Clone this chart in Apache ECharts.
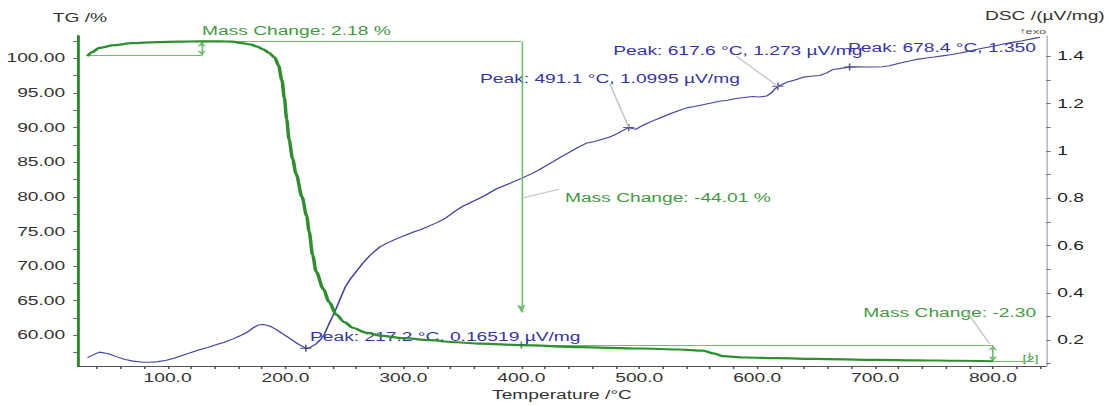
<!DOCTYPE html>
<html>
<head>
<meta charset="utf-8">
<script src="https://cdn.jsdelivr.net/npm/echarts@6/dist/echarts.min.js"></script>
<style>
  html, body { margin: 0; padding: 0; background: #fff; overflow: hidden; }
  /* the source picture is a horizontally stretched screenshot, so draw narrow and stretch */
  #chart { width: 693px; height: 406px; transform: scaleX(1.6); transform-origin: 0 0; }
</style>
</head>
<body>
<div id="chart"></div>
<script>
// TG curve (mass %)
const tgT = [32, 36, 42, 55, 70, 90, 110, 127, 145, 155, 163, 170, 176, 181, 186, 191, 194, 197, 199, 201,
  203, 206, 209, 214, 218, 220, 223, 226, 232, 237, 243, 250, 257, 268, 280, 300, 322, 345, 365, 400,
  450, 500, 534, 554, 563, 571, 590, 619, 650, 700, 735, 770, 800]
const tgV = [100.3, 100.9, 101.5, 101.9, 102.2, 102.35, 102.4, 102.45, 102.45, 102.4, 102.2, 102.0, 101.7, 101.3, 100.8, 100.1, 99.0, 96.8, 94.3, 91.2,
  88.3, 85.5, 83.3, 80.0, 77.2, 75.0, 71.6, 69.2, 66.7, 64.8, 63.0, 61.9, 61.1, 60.4, 59.96, 59.6, 59.3, 59.0, 58.8, 58.6,
  58.3, 58.1, 57.96, 57.8, 57.4, 57.0, 56.8, 56.7, 56.6, 56.45, 56.4, 56.33, 56.26]

// DSC curve (µV/mg)
const dscT = [32, 42, 50, 57, 64, 71, 78, 85, 92, 99, 106, 113, 120, 127, 134, 141, 148, 155, 161, 167,
  172, 177, 181, 184, 188, 192, 197, 203, 208, 212, 215, 217.2, 219, 222, 226, 230, 233, 237, 240, 243,
  247, 251, 255, 260, 266, 272, 280, 287, 294, 301, 308, 315, 322, 329, 336, 343, 350, 357, 365, 372,
  379, 389, 400, 408, 415, 421, 427, 434, 441, 448, 455, 462, 468, 475, 481, 486, 491.1, 494, 497.5, 501,
  506, 512, 518, 525, 532, 540, 547, 554, 561, 568, 575, 582, 589, 596, 602, 608, 612, 615, 617.6, 621,
  625, 632, 639, 646, 653, 659, 664, 670, 678.4, 685, 692, 699, 706, 712, 718, 724, 730, 735, 742, 750,
  757, 764, 771, 778, 785, 792, 799, 806, 812, 818, 824, 829, 835, 840]
const dscV = [0.126, 0.149, 0.142, 0.129, 0.118, 0.111, 0.107, 0.106, 0.109, 0.115, 0.124, 0.136, 0.148, 0.159, 0.169, 0.180, 0.191, 0.204, 0.217, 0.232,
  0.250, 0.264, 0.266, 0.263, 0.256, 0.245, 0.228, 0.209, 0.192, 0.180, 0.171, 0.165, 0.166, 0.172, 0.184, 0.204, 0.225, 0.270, 0.300, 0.334,
  0.382, 0.428, 0.458, 0.490, 0.528, 0.560, 0.594, 0.612, 0.628, 0.642, 0.656, 0.668, 0.683, 0.698, 0.717, 0.742, 0.765, 0.782, 0.801, 0.820,
  0.840, 0.860, 0.884, 0.902, 0.920, 0.938, 0.955, 0.976, 0.995, 1.015, 1.032, 1.040, 1.048, 1.059, 1.072, 1.086, 1.0995, 1.095, 1.092, 1.103,
  1.115, 1.128, 1.140, 1.155, 1.168, 1.182, 1.188, 1.195, 1.203, 1.210, 1.214, 1.222, 1.226, 1.230, 1.228, 1.232, 1.245, 1.262, 1.273, 1.280,
  1.290, 1.300, 1.312, 1.316, 1.319, 1.330, 1.344, 1.348, 1.355, 1.356, 1.355, 1.355, 1.356, 1.360, 1.368, 1.375, 1.381, 1.387, 1.392, 1.397,
  1.402, 1.407, 1.413, 1.420, 1.428, 1.435, 1.442, 1.449, 1.455, 1.460, 1.465, 1.470, 1.476, 1.481]

// DSC peaks
const peaks = [[217.2, 0.16519], [491.1, 1.0995], [617.6, 1.273], [678.4, 1.355]]

// tick labels
const tempTicks = [100, 200, 300, 400, 500, 600, 700, 800]
const tempMinor = [40, 60, 80, 100, 120, 140, 160, 180, 200, 220, 240, 260, 280, 300, 320, 340, 360, 380, 400, 420,
  440, 460, 480, 500, 520, 540, 560, 580, 600, 620, 640, 660, 680, 700, 720, 740, 760, 780, 800, 820, 840]
const tgTicks = [60, 65, 70, 75, 80, 85, 90, 95, 100]
const tgMinor = [57.5, 60, 62.5, 65, 67.5, 70, 72.5, 75, 77.5, 80, 82.5, 85, 87.5, 90, 92.5, 95, 97.5, 100, 102.5]
const dscTicks = [0.2, 0.4, 0.6, 0.8, 1, 1.2, 1.4]
const dscMinor = [0.1, 0.2, 0.3, 0.4, 0.5, 0.6, 0.7, 0.8, 0.9, 1, 1.1, 1.2, 1.3, 1.4]

// mass change steps (TG units)
const step1 = { from: 100.4, to: 102.4, at: 129, start: 32 }
const step2 = { from: 102.4, to: 63.3, at: 400 }
const step3 = { from: 58.55, to: 56.26, at: 800, end: 831, mark: 57.5 }

const font = 'Liberation Sans, Arial, sans-serif'
const green = '#2f8f2f'
const annGreen = '#6cbf6c'
const blue = '#4646a4'
const leader = '#c4c4c4'

var myChart = echarts.init(document.getElementById('chart'), null, { renderer: 'svg' })

const seg = (a, b) => [{ coord: a }, { coord: b }]

const txt = (x, y, text, color, size) => ({
    type: 'text', x: x, y: y, silent: true,
    style: { text: text, fill: color, font: (size || 12) + 'px ' + font, verticalAlign: 'middle' }
})

const option = {
    animation: false,
    grid: {
        left: 48.75,
        right: 39.25,
        top: 36,
        bottom: 30
    },
    xAxis: {
        type: 'value',
        min: 24,
        max: 845,
        name: 'Temperature /°C',
        nameLocation: 'middle',
        nameGap: 16,
        nameTextStyle: { color: '#333', fontSize: 12, fontFamily: font },
        axisLine: { lineStyle: { color: '#555', width: 1 } },
        axisTick: { customValues: tempMinor, length: 3, lineStyle: { color: '#555' } },
        axisLabel: {
            customValues: tempTicks,
            margin: 6,
            color: '#333',
            fontSize: 12,
            fontFamily: font,
            formatter: (v) => v.toFixed(1)
        },
        splitLine: { show: false }
    },
    yAxis: [
        {
            type: 'value',
            min: 55.56,
            max: 103.22,
            axisLine: { show: true, lineStyle: { color: '#2a8a2a', width: 1.8 } },
            axisTick: { show: true, customValues: tgMinor, length: 3, lineStyle: { color: '#666' } },
            axisLabel: {
                customValues: tgTicks,
                margin: 8,
                color: '#333',
                fontSize: 12,
                fontFamily: font,
                formatter: (v) => v.toFixed(2)
            },
            splitLine: { show: false }
        },
        {
            type: 'value',
            position: 'right',
            min: 0.09,
            max: 1.486,
            axisLine: { show: true, lineStyle: { color: '#b9b9d6', width: 1 } },
            axisTick: { show: true, customValues: dscMinor, length: 3, lineStyle: { color: '#777' } },
            axisLabel: {
                customValues: dscTicks,
                margin: 7,
                color: '#222',
                fontSize: 12,
                fontFamily: font,
                formatter: (v) => String(Math.round(v * 10) / 10)
            },
            splitLine: { show: false }
        }
    ],
    graphic: [
        txt(33, 18, 'TG /%', '#333'),
        txt(615.6, 16, 'DSC /(µV/mg)', '#333'),
        txt(637, 31, '↑exo', '#555', 8),
        txt(126.25, 31, 'Mass Change: 2.18 %', '#3f9a3f'),
        txt(353.1, 198, 'Mass Change: -44.01 %', '#3f9a3f'),
        txt(539.6, 313, 'Mass Change: -2.30', '#3f9a3f'),
        txt(639, 359, '[2]', '#3f9a3f', 9),
        txt(193.75, 337, 'Peak: 217.2 °C, 0.16519 µV/mg', '#3535a8'),
        txt(300, 79, 'Peak: 491.1 °C, 1.0995 µV/mg', '#3535a8'),
        txt(383.3, 51, 'Peak: 617.6 °C, 1.273 µV/mg', '#3535a8'),
        txt(530, 48, 'Peak: 678.4 °C, 1.350', '#3535a8')
    ],
    series: [
        {
            name: 'DSC',
            type: 'line',
            yAxisIndex: 1,
            showSymbol: false,
            data: dscT.map((t, i) => [t, dscV[i]]),
            lineStyle: { color: blue, width: 1.1 },
            markLine: {
                silent: true,
                symbol: 'none',
                label: { show: false },
                lineStyle: { color: leader, width: 1, type: 'solid' },
                data: [
                    seg([475, 1.285], peaks[1]),
                    seg([582.6, 1.40], peaks[2])
                ]
            },
            z: 3
        },
        {
            name: 'DSC peaks',
            type: 'scatter',
            yAxisIndex: 1,
            symbol: 'path://M0,5L10,5M5,0L5,10',
            symbolSize: 7,
            itemStyle: { color: 'none', borderColor: '#333366', borderWidth: 1 },
            data: peaks,
            z: 4
        },
        {
            name: 'TG',
            type: 'line',
            yAxisIndex: 0,
            showSymbol: false,
            smooth: 0.3,
            smoothMonotone: 'x',
            data: tgT.map((t, i) => [t, tgV[i]]),
            lineStyle: { color: green, width: 2.2 },
            markLine: {
                silent: true,
                symbol: 'none',
                label: { show: false },
                lineStyle: { color: annGreen, width: 1, type: 'solid' },
                data: [
                    seg([step1.start, step1.from], [step1.at, step1.from]),
                    seg([step1.at, step1.to], [step2.at, step1.to]),
                    [{ coord: [step1.at, step1.from], symbol: 'arrow', symbolSize: [4, 5] },
                     { coord: [step1.at, step1.to], symbol: 'arrow', symbolSize: [4, 5] }],
                    [{ coord: [step2.at, step2.from], symbol: 'none' },
                     { coord: [step2.at, step2.to], symbol: 'arrow', symbolSize: [4, 8] }],
                    seg([step2.at, step3.from], [step3.at, step3.from]),
                    [{ coord: [step3.at, step3.from], symbol: 'arrow', symbolSize: [4, 5] },
                     { coord: [step3.at, step3.to], symbol: 'arrow', symbolSize: [4, 5] }],
                    seg([step3.at, step3.to], [step3.end, step3.to]),
                    seg([step3.end, step3.to], [step3.end, step3.mark]),
                    [{ coord: [400, 79.8], lineStyle: { color: leader } }, { coord: [432, 81.1] }],
                    [{ coord: [778, 63.4], lineStyle: { color: leader } }, { coord: [797, 58.8] }]
                ]
            },
            z: 5
        },
        {
            name: 'TG marks',
            type: 'scatter',
            yAxisIndex: 0,
            symbol: 'path://M0,5L10,5M5,0L5,10',
            symbolSize: 7,
            itemStyle: { color: 'none', borderColor: '#2f6f2f', borderWidth: 1 },
            data: [[step2.at, 58.6]],
            z: 6
        }
    ]
}
myChart.setOption(option)
</script>
</body>
</html>
